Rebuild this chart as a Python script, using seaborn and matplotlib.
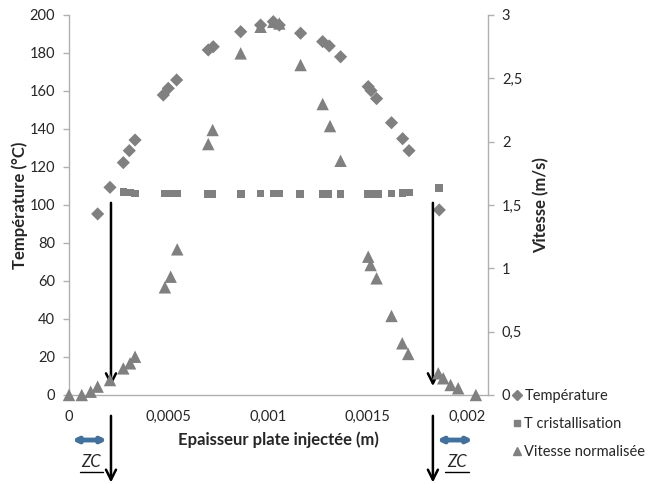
import matplotlib
matplotlib.use("Agg")

import matplotlib.pyplot as plt
import seaborn as sns
from matplotlib.lines import Line2D
from matplotlib.ticker import FuncFormatter

# data
temp_x = [0.000144, 0.000206, 0.000273, 0.000303, 0.000332, 0.000474, 0.000499,
          0.000541, 0.000700, 0.000725, 0.000863, 0.000963, 0.001027, 0.001057,
          0.001164, 0.001275, 0.001308, 0.001365, 0.001504, 0.001518, 0.001546,
          0.001621, 0.001677, 0.001709, 0.001861]
temp_y = [95.3, 109.3, 122.3, 128.6, 134.2, 157.9, 161.4, 165.8, 181.6, 183.3,
          191.2, 194.7, 196.5, 194.7, 190.4, 186.0, 183.7, 178.0, 162.3, 160.2,
          156.0, 143.3, 134.9, 128.6, 97.4]

cryst_x = [0.000273, 0.000307, 0.000332, 0.000482, 0.000516, 0.000544, 0.000700,
           0.000722, 0.000863, 0.000963, 0.001027, 0.001057, 0.001161, 0.001275,
           0.001303, 0.001365, 0.001504, 0.001529, 0.001554, 0.001621, 0.001677,
           0.001709, 0.001861]
cryst_y = [107.0, 106.5, 106.1, 106.0, 106.0, 106.0, 105.8, 105.8, 105.8, 106.0,
           106.0, 106.0, 105.8, 105.8, 105.8, 105.8, 105.8, 105.8, 105.8, 106.0,
           106.2, 106.6, 108.8]

vit_x = [0.0, 0.000064, 0.000109, 0.000144, 0.000206, 0.000273, 0.000307,
         0.000332, 0.000482, 0.000511, 0.000544, 0.000700, 0.000722, 0.000863,
         0.000963, 0.001027, 0.001057, 0.001164, 0.001275, 0.001312, 0.001365,
         0.001504, 0.001516, 0.001546, 0.001621, 0.001675, 0.001705, 0.001856,
         0.001881, 0.001918, 0.001956, 0.002045]
vit_y = [0.0, 0.0, 0.026, 0.066, 0.118, 0.21, 0.25, 0.302, 0.85, 0.934, 1.15,
         1.981, 2.092, 2.697, 2.907, 2.946, 2.933, 2.605, 2.297, 2.123, 1.849,
         1.092, 1.026, 0.921, 0.624, 0.408, 0.324, 0.171, 0.132, 0.079, 0.053, 0.0]

x_ticks = [0, 0.0005, 0.001, 0.0015, 0.002]
x_tick_labels = ["0", "0,0005", "0,001", "0,0015", "0,002"]
zc_x = [0.000211, 0.001829]          # crystallised-zone limits (arrows)
zc_span = [(0.000015, 0.000191), (0.001849, 0.00203)]

sns.set_style("white")
plt.rcParams["font.family"] = ["Lato", "DejaVu Sans"]

GREY = "#808080"
SPINE = "#B0B0B0"
BLUE = "#41719C"

fig = plt.figure(figsize=(6.49, 4.84), dpi=100)
ax = fig.add_axes([69 / 649, 89 / 484, (488 - 69) / 649, 380 / 484])
ax2 = ax.twinx()

sns.scatterplot(x=temp_x, y=temp_y, ax=ax, marker="D", s=45, color=GREY,
                edgecolor="none", label="Température", legend=False)
sns.scatterplot(x=cryst_x, y=cryst_y, ax=ax, marker="s", s=30, color=GREY,
                edgecolor="none", label="T cristallisation", legend=False)
sns.scatterplot(x=vit_x, y=vit_y, ax=ax2, marker="^", s=80, color=GREY,
                edgecolor="none", label="Vitesse normalisée", legend=False)
for a in (ax, ax2):
    for c in a.collections:
        c.set_clip_on(False)

ax.set_xlim(0, 0.002106)
ax.set_ylim(0, 200)
ax2.set_ylim(0, 3)
ax.set_xticks(x_ticks)
ax.set_xticklabels(x_tick_labels)
ax.set_yticks(range(0, 201, 20))
ax2.set_yticks([0, 0.5, 1, 1.5, 2, 2.5, 3])
ax2.yaxis.set_major_formatter(FuncFormatter(lambda v, p: f"{v:g}".replace(".", ",")))

for a in (ax, ax2):
    for side, sp in a.spines.items():
        sp.set_color(SPINE)
        sp.set_linewidth(1.0)
    a.spines["top"].set_visible(False)
    a.tick_params(colors=SPINE, labelcolor="#262626", labelsize=10.5,
                  length=4, width=1, direction="out", pad=6)
ax.spines["right"].set_visible(False)
ax2.spines["left"].set_visible(False)
ax2.spines["bottom"].set_visible(False)
ax.tick_params(axis="x", length=0, pad=11)

ax.set_xlabel("Epaisseur plate injectée (m)", fontsize=12, fontweight="bold",
              labelpad=5)
ax.set_ylabel("Température (°C)", fontsize=12, fontweight="bold", labelpad=1)
ax2.set_ylabel("Vitesse (m/s)", fontsize=12, fontweight="bold", labelpad=8)

# zone limits: vertical arrows inside and below the plot
for xz in zc_x:
    ax.annotate("", xy=(xz, 3.2), xytext=(xz, 102.6), annotation_clip=False,
                arrowprops=dict(arrowstyle="->", color="black", lw=1.8,
                                mutation_scale=18))
    ax.annotate("", xy=(xz, -47.5), xytext=(xz, -9.5), annotation_clip=False,
                arrowprops=dict(arrowstyle="->", color="black", lw=1.8,
                                mutation_scale=18))

# ZC double arrows and labels
for x0, x1 in zc_span:
    ax.annotate("", xy=(x1, -23.7), xytext=(x0, -23.7), annotation_clip=False,
                arrowprops=dict(arrowstyle="<|-|>", color=BLUE, lw=3.5,
                                mutation_scale=7, shrinkA=0, shrinkB=0))
    xm = (x0 + x1) / 2
    ax.text(xm + 0.00001, -35.5, "ZC", fontsize=12, fontstyle="italic",
            ha="center", va="center", clip_on=False)
    ax.add_line(Line2D([xm - 0.00005, xm + 0.00007], [-40.5, -40.5],
                       color="black", lw=1, clip_on=False))

handles = [
    Line2D([], [], marker="D", color=GREY, ls="none", markersize=5),
    Line2D([], [], marker="s", color=GREY, ls="none", markersize=5),
    Line2D([], [], marker="^", color=GREY, ls="none", markersize=6),
]
labels = ["Température", "T cristallisation", "Vitesse normalisée"]
fig.legend(handles, labels, loc="upper left",
           bbox_to_anchor=(512 / 649, 1 - 389 / 484), frameon=False,
           fontsize=10.5, handlelength=0.7, handletextpad=0.15,
           labelspacing=0.95, borderpad=0, borderaxespad=0,
           labelcolor="#262626")

fig.savefig("out.png", dpi=100)
plt.close(fig)
